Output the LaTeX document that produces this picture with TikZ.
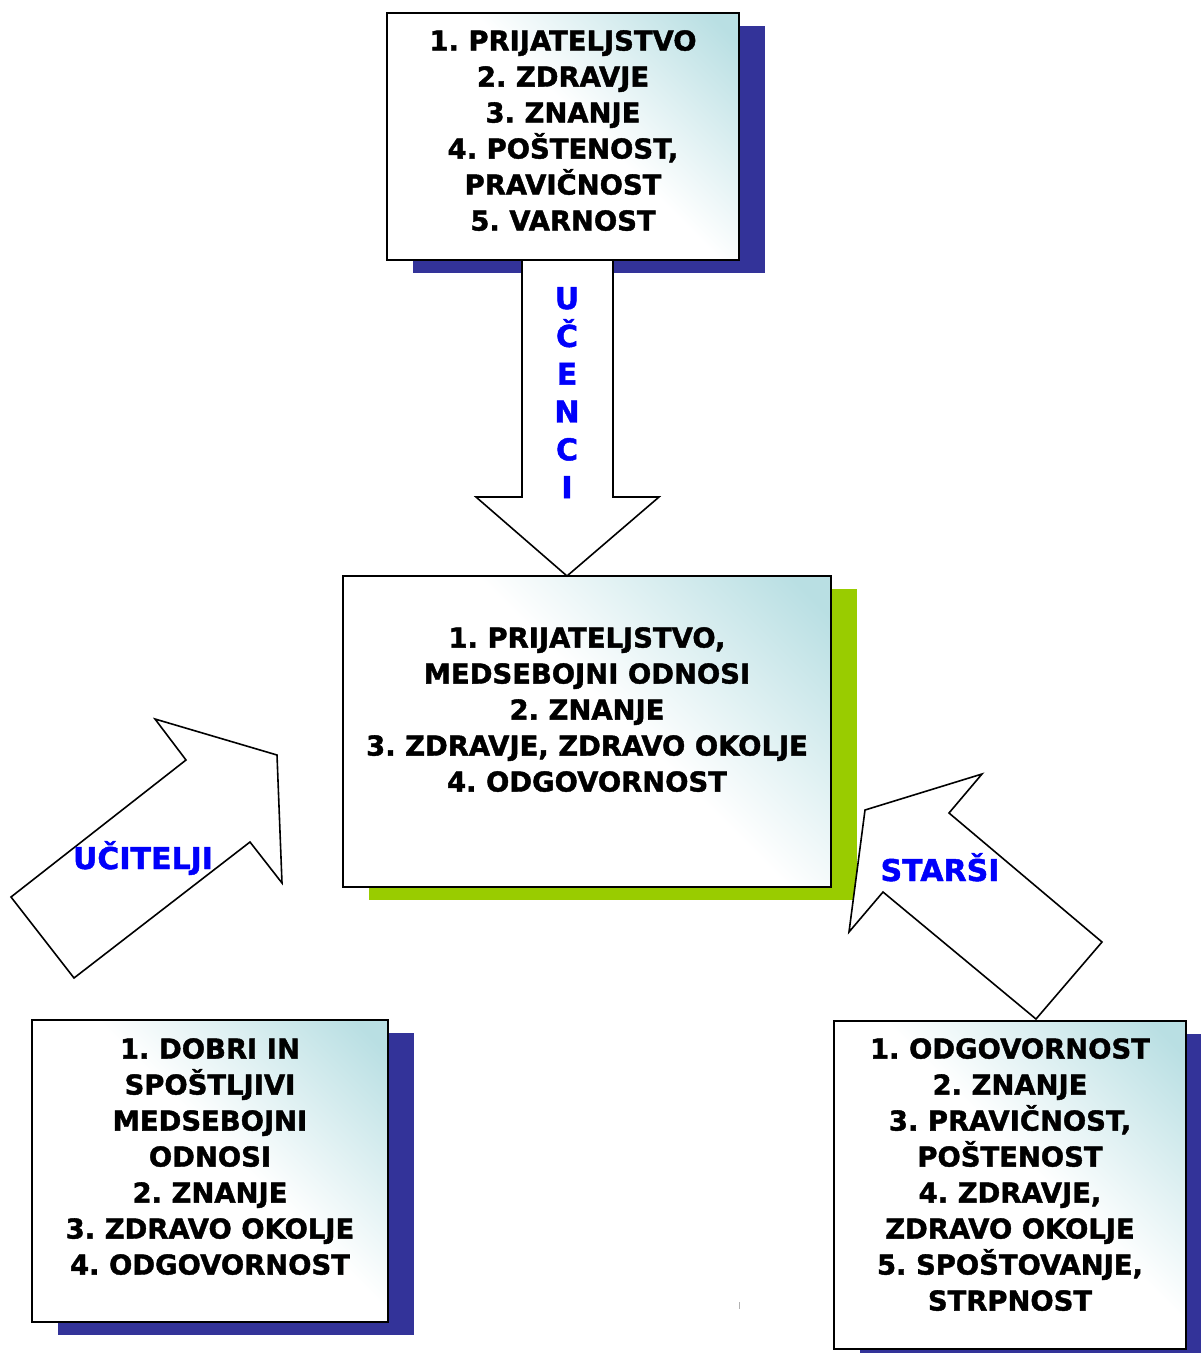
\documentclass[tikz,border=0pt]{standalone}
\usepackage{fontspec}
\setmainfont{DejaVu Sans}[BoldFeatures={FakeBold=1.5}]
\usetikzlibrary{shadows}
\frenchspacing

\definecolor{navysh}{RGB}{51,51,153}
\definecolor{limesh}{RGB}{153,204,0}
\definecolor{boxteal}{RGB}{185,223,227}
\definecolor{labblue}{RGB}{0,0,250}

\pgfdeclareverticalshading{tealcorner}{100bp}{color(0bp)=(white); color(54bp)=(white); color(68bp)=(boxteal!50!white); color(82bp)=(boxteal); color(100bp)=(boxteal)}

\tikzset{
  valbox/.style={draw=black, line width=2pt, shade, shading=tealcorner, shading angle=-45, inner sep=0pt},
  navyshadow/.style={general shadow={fill=navysh, shadow xshift=26pt, shadow yshift=-13pt}},
  limeshadow/.style={general shadow={fill=limesh, shadow xshift=26pt, shadow yshift=-13pt}},
  valtext/.style={align=center, anchor=north, inner sep=0pt, font=\bfseries\fontsize{27.4}{36}\selectfont},
  blockarrow/.style={draw=black, line width=1.6pt, fill=white, line join=miter},
  arrowtext/.style={anchor=base, inner sep=0pt, text=labblue, font=\bfseries\fontsize{30}{37.8}\selectfont}
}

\begin{document}
\begin{tikzpicture}[x=1pt,y=-1pt]
  \useasboundingbox (0,0) rectangle (1201,1353);
  \clip (0,0) rectangle (1201,1353);

  % boxes
  \draw (563,136.5) node (ucenci) [valbox, navyshadow, minimum width=352, minimum height=247] {};
  \draw (587,731.5) node (skupaj) [valbox, limeshadow, minimum width=488, minimum height=311] {};
  \draw (210,1171)  node (ucitelji) [valbox, navyshadow, minimum width=356, minimum height=302] {};
  \draw (1010,1185) node (starsi) [valbox, navyshadow, minimum width=352, minimum height=328] {};

  \node (ucencit) [valtext] at ([yshift=-18pt]ucenci.north)
    {1. PRIJATELJSTVO\\2. ZDRAVJE\\3. ZNANJE\\4. POŠTENOST,\\PRAVIČNOST\\5. VARNOST};
  \node (skupajt) [valtext] at ([yshift=-52pt]skupaj.north)
    {1. PRIJATELJSTVO,\\MEDSEBOJNI ODNOSI\\2. ZNANJE\\3. ZDRAVJE, ZDRAVO OKOLJE\\4. ODGOVORNOST};
  \node (uciteljit) [valtext] at ([yshift=-19pt]ucitelji.north)
    {1. DOBRI IN\\SPOŠTLJIVI\\MEDSEBOJNI\\ODNOSI\\2. ZNANJE\\3. ZDRAVO OKOLJE\\4. ODGOVORNOST};
  \node (starsit) [valtext] at ([yshift=-18pt]starsi.north)
    {1. ODGOVORNOST\\2. ZNANJE\\3. PRAVIČNOST,\\POŠTENOST\\4. ZDRAVJE,\\ZDRAVO OKOLJE\\5. SPOŠTOVANJE,\\STRPNOST};

  % block arrows
  \draw[blockarrow] (522,260) -- (522,497) -- (476,497) -- (567,576)
    -- (659,497) -- (613,497) -- (613,260) -- cycle;
  \draw[blockarrow] (11,897) -- (74,978) -- (250,842) -- (282,883)
    -- (277,755) -- (155,719) -- (186,760) -- cycle;
  \draw[blockarrow] (1036,1019) -- (1102,942) -- (949,813) -- (982,774)
    -- (865,810) -- (849,932) -- (883,892) -- cycle;

  \node (ucencil) [arrowtext, align=center, anchor=north] at (567,287) {U\\Č\\E\\N\\C\\I};
  \node (uciteljil) [arrowtext] at (143,869) {UČITELJI};
  \node (starsil) [arrowtext] at (940,881) {STARŠI};

  \draw[gray!60, line width=1pt] (739,1302) -- (739,1309);
\end{tikzpicture}
\end{document}
